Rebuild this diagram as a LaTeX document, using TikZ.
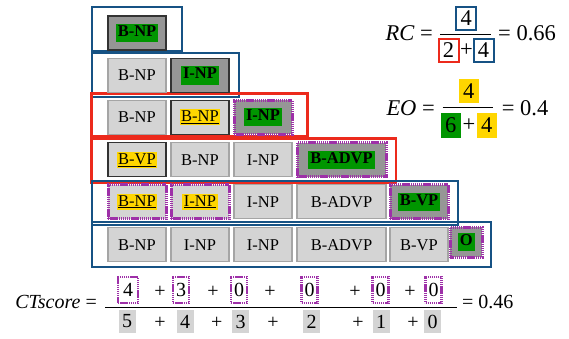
\documentclass[tikz,border=0pt]{standalone}
\usepackage{fontspec}
\setmainfont{Liberation Serif}
\usepackage{tikz}
\definecolor{cBlue}{RGB}{22,82,132}
\definecolor{cRed}{RGB}{236,42,28}
\definecolor{cPurple}{RGB}{158,48,168}
\definecolor{cGreen}{RGB}{0,150,0}
\definecolor{cYellow}{RGB}{255,214,0}
\definecolor{cLight}{RGB}{212,212,212}
\definecolor{cLine}{RGB}{165,165,165}
\definecolor{cDark}{RGB}{150,150,150}
\newcommand{\GB}[1]{{\setlength{\fboxsep}{2pt}\colorbox{cGreen}{\textbf{#1}\vphantom{Ag}}}}
\newcommand{\YB}[1]{{\setlength{\fboxsep}{1.5pt}\colorbox{cYellow}{\underline{#1}}}}

\begin{document}
\begin{tikzpicture}[x=1pt, y=-1pt,
  cell/.style={draw=cLine, fill=cLight, line width=1.2pt, inner sep=0pt,
    minimum width=58pt, minimum height=34pt, font=\fontsize{16.5}{19}\selectfont},
  wide/.style={minimum width=89pt},
  dark/.style={fill=cDark, draw=black!80},
  framed/.style={draw=black!80},
  dots/.style={draw=cPurple, dash pattern=on 1.4pt off 0.7pt, line width=3pt},
  rowblue/.style={draw=cBlue, line width=2.2pt},
  rowred/.style={draw=cRed, line width=2.6pt},
  eq/.style={inner sep=0pt, font=\fontsize{22.5}{26}\selectfont},
  dig/.style={eq, minimum width=20pt, minimum height=23pt},
  sm/.style={inner sep=0pt, font=\fontsize{20}{24}\selectfont},
  num/.style={sm, dots, line width=2.6pt, fill=white, minimum width=16pt, minimum height=26pt},
  den/.style={sm, fill=cLight, minimum width=17pt, minimum height=23pt},
  bar/.style={line width=1.3pt}]

  \useasboundingbox (0,0) rectangle (569,338);

  %% row frames
  \draw[rowblue] (91.7,6.7) rectangle (181.7,50.7);
  \draw[rowblue] (91.7,53.3) rectangle (239.3,97.3);
  \draw[rowred] (91.7,93.3) rectangle (307.7,136.7);
  \draw[rowred] (91.7,138.3) rectangle (396,182.3);
  \draw[rowblue] (91.7,181) rectangle (458.3,225);
  \draw[rowblue] (91.7,221.7) rectangle (491,266.7);

  %% row 1
  \node[cell, dark] (a1) at (137,33) {\GB{B-NP}};
  %% row 2
  \node[cell] (b1) at (137,75.3) {B-NP};
  \node[cell, dark] (b2) at (200,75.3) {\GB{I-NP}};
  %% row 3
  \node[cell] (c1) at (137,117.2) {B-NP};
  \node[cell, framed] (c2) at (200,117.2) {\YB{B-NP}};
  \node[cell, dark, dots] (c3) at (263,117.2) {\GB{I-NP}};
  %% row 4
  \node[cell, framed] (d1) at (137,159.8) {\YB{B-VP}};
  \node[cell] (d2) at (200,159.8) {B-NP};
  \node[cell] (d3) at (263,159.8) {I-NP};
  \node[cell, wide, dark, dots] (d4) at (341.5,159.8) {\GB{B-ADVP}};
  %% row 5
  \node[cell, dots] (e1) at (137,201.8) {\YB{B-NP}};
  \node[cell, dots] (e2) at (200,201.8) {\YB{I-NP}};
  \node[cell] (e3) at (263,201.8) {I-NP};
  \node[cell, wide] (e4) at (341.5,201.8) {B-ADVP};
  \node[cell, dark, dots] (e5) at (419,201.8) {\GB{B-VP}};
  %% row 6
  \node[cell] (f1) at (137,244.8) {B-NP};
  \node[cell] (f2) at (200,244.8) {I-NP};
  \node[cell] (f3) at (263,244.8) {I-NP};
  \node[cell, wide] (f4) at (341.5,244.8) {B-ADVP};
  \node[cell] (f5) at (419,244.8) {B-VP};
  \node[cell, dark, dots, minimum width=32pt, minimum height=30pt] (f6) at (466.3,242) {\GB{O}};

  %% RC
  \node[eq, anchor=east] (rc) at (433,33) {\textit{RC} =};
  \coordinate (rcL) at (440,34.7);
  \coordinate (rcR) at (490.7,34.7);
  \draw[bar] (rcL) -- (rcR);
  \node[dig, draw=cBlue, line width=2pt] (rcN) at (466.3,18) {4};
  \node[dig, draw=cRed, line width=2pt] (rcD1) at (448.5,50) {2};
  \node[eq] (rcP) at (466.5,50) {+};
  \node[dig, draw=cBlue, line width=2pt] (rcD2) at (483.5,50) {4};
  \node[eq, anchor=west] (rcV) at (498,33) {= 0.66};

  %% EO
  \node[eq, anchor=east] (eo) at (435,107.7) {\textit{EO} =};
  \coordinate (eoL) at (442.7,107.7);
  \coordinate (eoR) at (493.3,107.7);
  \draw[bar] (eoL) -- (eoR);
  \node[dig, fill=cYellow, minimum height=24pt] (eoN) at (468.7,91.2) {4};
  \node[dig, fill=cGreen, minimum height=25pt] (eoD1) at (450.8,125.2) {6};
  \node[eq] (eoP) at (469,125.2) {+};
  \node[dig, fill=cYellow, minimum height=25pt] (eoD2) at (486.7,125.2) {4};
  \node[eq, anchor=west] (eoV) at (501.7,107.7) {= 0.4};

  %% CTscore
  \node[sm, anchor=east] (ct) at (97,302) {\textit{CTscore} =};
  \coordinate (ctL) at (105,307.3);
  \coordinate (ctR) at (456.7,307.3);
  \draw[bar] (ctL) -- (ctR);
  \node[num, minimum width=20pt] (n1) at (128,290) {4};
  \node[num] (n2) at (181,290) {3};
  \node[num] (n3) at (239,290) {0};
  \node[num] (n4) at (309.5,290) {0};
  \node[num] (n5) at (380.5,290) {0};
  \node[num] (n6) at (433.5,290) {0};
  \node[sm] (np1) at (160,292) {+};
  \node[sm] (np2) at (213,292) {+};
  \node[sm] (np3) at (270,292) {+};
  \node[sm] (np4) at (355,292) {+};
  \node[sm] (np5) at (410,292) {+};
  \node[den] (m1) at (127,321.5) {5};
  \node[den] (m2) at (185,321.5) {4};
  \node[den] (m3) at (240.5,321.5) {3};
  \node[den] (m4) at (311.5,321.5) {2};
  \node[den] (m5) at (381,321.5) {1};
  \node[den] (m6) at (432.5,321.5) {0};
  \node[sm] (mp1) at (160,323) {+};
  \node[sm] (mp2) at (216.7,323) {+};
  \node[sm] (mp3) at (273,323) {+};
  \node[sm] (mp4) at (358,323) {+};
  \node[sm] (mp5) at (413,323) {+};
  \node[sm, anchor=west] (ctV) at (462,302) {= 0.46};

\end{tikzpicture}
\end{document}
